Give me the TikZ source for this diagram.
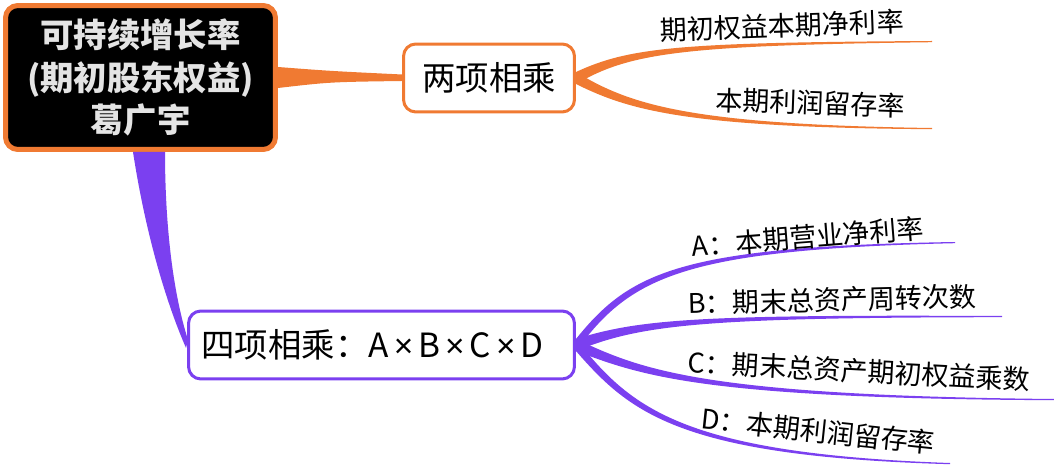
\documentclass[tikz,border=0pt]{standalone}
\usepackage{fontspec}
\setmainfont{Noto Sans CJK SC}
\newfontfamily\latinfont{Liberation Sans}
\usetikzlibrary{calc}
\definecolor{mapOrange}{RGB}{240,122,50}
\definecolor{mapPurple}{RGB}{123,64,240}
\definecolor{rootText}{RGB}{228,228,228}
\newcommand{\mulsign}{\hspace{0.15em}{\latinfont ×}\hspace{0.15em}}

\begin{document}
\begin{tikzpicture}[
        x=0.02cm, y=-0.02cm,
        root/.style={rectangle, draw=mapOrange, line width=0.1cm, fill=black, rounded corners=7pt, minimum width=5.4cm, minimum height=2.88cm, inner sep=0pt, align=center, text=rootText, font=\fontsize{19}{24}\selectfont\bfseries},
        topic/.style={rectangle, line width=0.06cm, fill=white, rounded corners=7pt, minimum height=1.36cm, inner sep=0pt, font=\fontsize{19}{23}\selectfont},
        leaf/.style={inner sep=0pt, font=\fontsize{15.4}{18}\selectfont}
    ]
        \useasboundingbox (0,0) rectangle (1054,465);

        \node[root] (root) at (140.5,77.5) {可持续增长率\\(期初股东权益)\\葛广宇};
        \node[topic, draw=mapOrange, minimum width=3.42cm] (two) at (489,78) {两项相乘};
        \node[topic, draw=mapPurple, minimum width=7.72cm, text width=7.2cm, align=left] (four) at (381.5,345) {四项相乘：A\mulsign B\mulsign C\mulsign D};

        % ends of the leaf lines
        \coordinate (twoA) at (932,41);
        \coordinate (twoB) at (932,128);
        \coordinate (fourA) at (955,242);
        \coordinate (fourB) at (1002,316);
        \coordinate (fourC) at (1054,399);
        \coordinate (fourD) at (950,463);

        % root to topics
        \fill[mapOrange] ($(root.east)+(0,-10.5)$) .. controls (330,71) .. ($(two.west)+(0,-3.5)$) -- ($(two.west)+(0,3)$) .. controls (330,82) .. ($(root.east)+(0,10.5)$) -- cycle;
        \fill[mapPurple] ($(root.south)+(-7.5,0)$) .. controls (145,230) and (165,300) .. ($(four.west)+(-1,3)$) -- ($(four.west)+(1,-5)$) .. controls (172,290) and (165,220) .. ($(root.south)+(24.5,0)$) -- cycle;

        % orange leaves
        \fill[mapOrange] ($(two.east)+(0,-6)$) .. controls (630,47) and (680,42.5) .. (twoA) -- ($(twoA)+(0,1.2)$) .. controls (680,45.5) and (630,53) .. ($(two.east)+(0,6)$) -- cycle;
        \fill[mapOrange] ($(two.east)+(0,-6)$) .. controls (630,105) and (690,124.5) .. (twoB) -- ($(twoB)+(0,1.2)$) .. controls (690,127.5) and (630,111) .. ($(two.east)+(0,6)$) -- cycle;
        \node[leaf, rotate=2] (lblTwoA) at (782,26) {期初权益本期净利率};
        \node[leaf, rotate=-2] (lblTwoB) at (810,103) {本期利润留存率};

        % purple leaves
        \fill[mapPurple] ($(four.east)+(0,-6)$) .. controls (630,272) and (680,246.5) .. (fourA) -- ($(fourA)+(0,1.2)$) .. controls (680,249.5) and (630,278) .. ($(four.east)+(0,6)$) -- cycle;
        \fill[mapPurple] ($(four.east)+(0,-6)$) .. controls (640,319) and (700,314.5) .. (fourB) -- ($(fourB)+(0,1.2)$) .. controls (700,317.5) and (640,325) .. ($(four.east)+(0,6)$) -- cycle;
        \fill[mapPurple] ($(four.east)+(0,-6)$) .. controls (640,369) and (700,395.5) .. (fourC) -- ($(fourC)+(0,1.2)$) .. controls (700,398.5) and (640,375) .. ($(four.east)+(0,6)$) -- cycle;
        \fill[mapPurple] ($(four.east)+(0,-6)$) .. controls (630,407) and (680,453.5) .. (fourD) -- ($(fourD)+(0,1.2)$) .. controls (680,456.5) and (630,413) .. ($(four.east)+(0,6)$) -- cycle;
        \node[leaf, rotate=4.5] (lblFourA) at (808,237) {A：本期营业净利率};
        \node[leaf, rotate=1.5] (lblFourB) at (832,300) {B：期末总资产周转次数};
        \node[leaf, rotate=-3] (lblFourC) at (859,371) {C：期末总资产期初权益乘数};
        \node[leaf, rotate=-6] (lblFourD) at (818,431) {D：本期利润留存率};
    \end{tikzpicture}
\end{document}
